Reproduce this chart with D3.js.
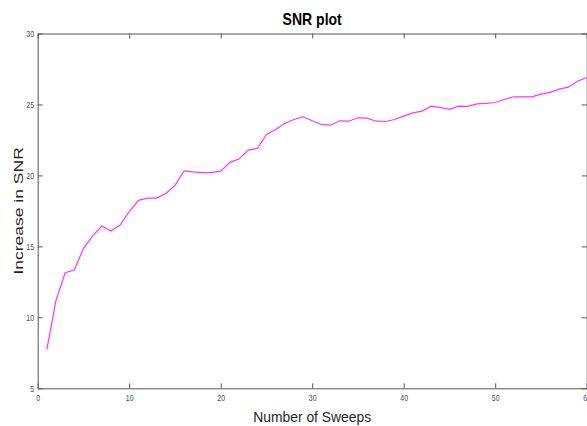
<!DOCTYPE html>
<html>
<head>
<meta charset="utf-8">
<script src="https://cdn.jsdelivr.net/npm/d3@7"></script>
<style>
  body { margin: 0; background: #fff; }
  svg { display: block; }
  text { font-family: "Liberation Sans", Arial, sans-serif; }
  .tick text { font-size: 8.5px; fill: #4d4d4d; }
  .axis path, .axis line { stroke: #555; }
</style>
</head>
<body>
<div id="chart"></div>
<script>
// SNR gain per sweep count
const sweeps = d3.range(1, 61);
const snrGain = [
  7.75, 11.2, 13.14, 13.33, 14.86, 15.73, 16.43, 16.08, 16.5, 17.44,
  18.24, 18.4, 18.4, 18.73, 19.3, 20.32, 20.25, 20.2, 20.2, 20.3,
  20.92, 21.15, 21.78, 21.9, 22.89, 23.24, 23.66, 23.94, 24.13, 23.85,
  23.59, 23.54, 23.85, 23.82, 24.06, 24.04, 23.82, 23.8, 23.94, 24.18,
  24.41, 24.53, 24.88, 24.79, 24.65, 24.88, 24.86, 25.04, 25.07, 25.14,
  25.35, 25.54, 25.54, 25.54, 25.73, 25.85, 26.08, 26.22, 26.64, 26.9
];
const xTicks = [0, 10, 20, 30, 40, 50, 60];
const yTicks = [5, 10, 15, 20, 25, 30];

const width = 587;
const height = 426;
const m = { left: 37.7, right: 586.7, top: 33.5, bottom: 388.3 };
const squeeze = 0.82; // the source picture is a bit narrow horizontally

const svg = d3.select('#chart').append('svg')
    .attr('width', width)
    .attr('height', height);

const x = d3.scaleLinear().domain([0, 60]).range([m.left, m.right]);
const y = d3.scaleLinear().domain([5, 30]).range([m.bottom, m.top]);

// box with inward ticks, matlab style
svg.append('g').attr('class', 'axis')
    .attr('transform', `translate(0,${m.bottom})`)
    .call(d3.axisBottom(x).tickValues(xTicks).tickSizeInner(-5).tickSizeOuter(0).tickPadding(13))
    .call(g => g.selectAll('.tick text').attr('dy', '0').attr('transform', `scale(${squeeze},1)`));

svg.append('g').attr('class', 'axis')
    .attr('transform', `translate(0,${m.top})`)
    .call(d3.axisTop(x).tickValues(xTicks).tickSizeInner(-5).tickSizeOuter(0).tickFormat(''));

svg.append('g').attr('class', 'axis')
    .attr('transform', `translate(${m.left},0)`)
    .call(d3.axisLeft(y).tickValues(yTicks).tickSizeInner(-5).tickSizeOuter(0))
    .call(g => g.selectAll('.tick text').attr('x', -3.6 / squeeze).attr('transform', `scale(${squeeze},1)`));

svg.append('g').attr('class', 'axis')
    .attr('transform', `translate(${m.right},0)`)
    .call(d3.axisRight(y).tickValues(yTicks).tickSizeInner(-5).tickSizeOuter(0).tickFormat(''));

const line = d3.line()
    .x((d, i) => x(sweeps[i]))
    .y(d => y(d));

svg.append('path')
    .datum(snrGain)
    .attr('fill', 'none')
    .attr('stroke', '#ff33ff')
    .attr('stroke-width', 1.2)
    .attr('d', line);

svg.append('text')
    .attr('transform', `translate(${(m.left + m.right) / 2},25) scale(0.85,1)`)
    .attr('text-anchor', 'middle')
    .style('font-weight', 'bold')
    .style('font-size', '16.5px')
    .text('SNR plot');

svg.append('text')
    .attr('transform', `translate(${(m.left + m.right) / 2},421.7) scale(0.9,1)`)
    .attr('text-anchor', 'middle')
    .style('font-size', '15.4px')
    .style('fill', '#262626')
    .text('Number of Sweeps');

svg.append('text')
    .attr('transform', `translate(22.7,${(m.top + m.bottom) / 2}) rotate(-90) scale(1,0.75)`)
    .attr('text-anchor', 'middle')
    .style('font-size', '17.5px')
    .style('fill', '#262626')
    .text('Increase in SNR');
</script>
</body>
</html>
